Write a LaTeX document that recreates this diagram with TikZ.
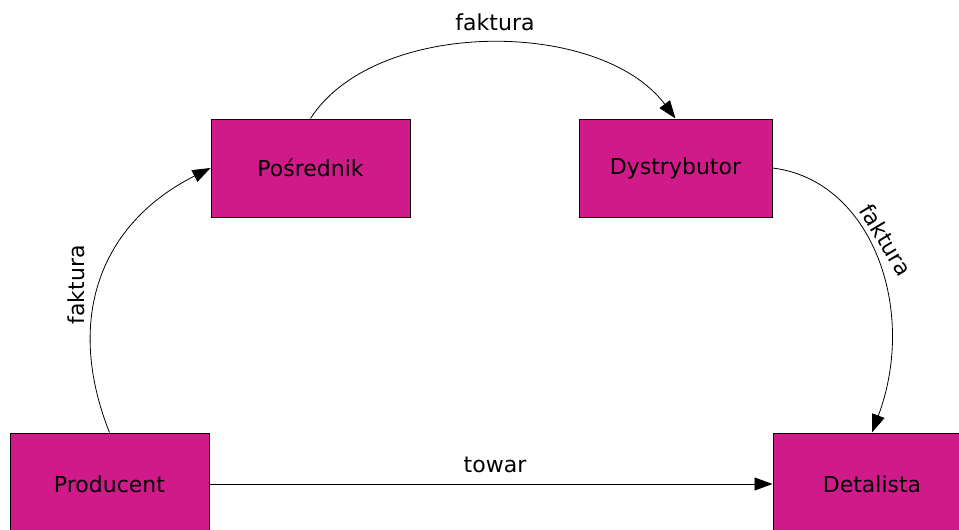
\documentclass[tikz,border=0pt]{standalone}
\usepackage{fontspec}
\setmainfont{DejaVu Sans}
\usetikzlibrary{arrows.meta}
\definecolor{boxfill}{RGB}{208,26,138}
\begin{document}
\begin{tikzpicture}[x=1pt,y=-1pt,
  txt/.style={font=\fontsize{22}{26}\selectfont},
  box/.style={txt, draw=black, line width=1pt, fill=boxfill, inner sep=0pt},
  flow/.style={line width=0.8pt, -{Triangle[length=18pt,width=13pt]}},
  lbl/.style={txt, inner sep=0pt}]
\useasboundingbox (0,0) rectangle (959,530);
\clip (0,0) rectangle (959,530);

% boxes
\node[box, minimum width=199pt, minimum height=98pt] (pos) at (310.5,168) {Pośrednik};
\node[box, minimum width=193pt, minimum height=98pt] (dys) at (675.5,168) {Dystrybutor};
\node[box, minimum width=199pt, minimum height=102pt] (pro) at (109.5,484) {Producent};
\node[box, minimum width=198pt, minimum height=102pt] (det) at (872,484) {Detalista};

% flows
\draw[flow] (pro.east) -- (det.west);
\draw[flow] (pro.north) .. controls (64,318) and (101,223) .. (pos.west);
\draw[flow] (pos.north) .. controls (375,18) and (600,18) .. (dys.north);
\draw[flow] (dys.east) .. controls (872,180) and (918,310) .. (det.north);

% labels
\node[lbl] (ltop) at (495,22) {faktura};
\node[lbl, rotate=90] (lleft) at (76,285) {faktura};
\node[lbl, rotate=-59] (lright) at (886,240) {faktura};
\node[lbl] (lbot) at (495,465) {towar};
\end{tikzpicture}
\end{document}
